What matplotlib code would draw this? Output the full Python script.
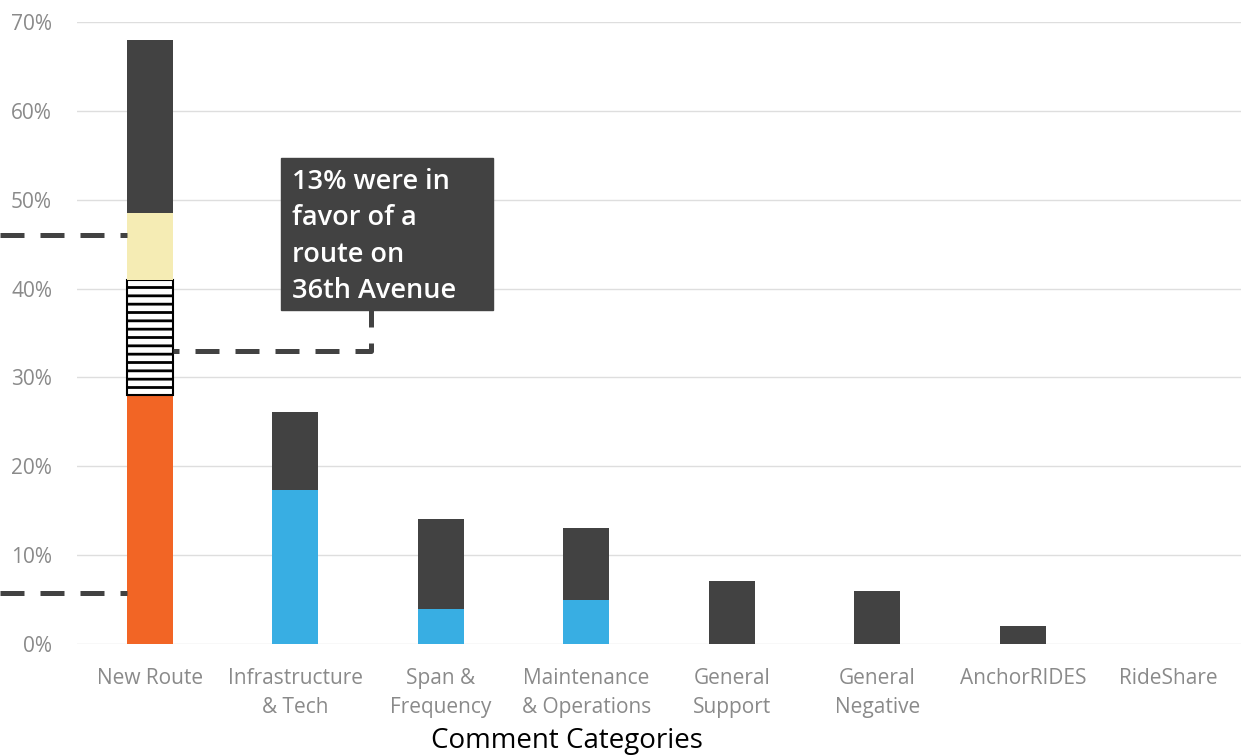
import numpy as np
import matplotlib.pyplot as plt
from matplotlib.patches import Rectangle

plt.rcParams['font.family'] = ['Open Sans', 'DejaVu Sans']
plt.rcParams['hatch.linewidth'] = 2.0

categories = ['New Route', 'Infrastructure\n& Tech', 'Span &\nFrequency',
              'Maintenance\n& Operations', 'General\nSupport', 'General\nNegative',
              'AnchorRIDES', 'RideShare']

# New Route pieces
new_orange = 28.0
new_hatched = 13.0
new_yellow = 7.5
new_dark = 19.5

# other categories: coloured part and dark remainder
blue_part = [0, 17.3, 3.9, 4.95, 0, 0, 0, 0]
dark_part = [0, 8.8, 10.2, 8.1, 7.1, 6.0, 2.0, 0]

callout = '13% were in\nfavor of a\nroute on\n36th Avenue'

orange = '#F26525'
blue = '#38AEE3'
dark = '#424242'
yellow = '#F5ECB4'

fig = plt.figure(figsize=(12.41, 7.56), dpi=100)
ax = fig.add_axes([77 / 1241, 1 - 644 / 756, 1164 / 1241, 622 / 756])

x = np.arange(len(categories))
w = 0.316

# New Route stack
ax.bar(0, new_orange, w, color=orange)
ax.bar(0, new_hatched, w, bottom=new_orange, color='white', edgecolor='black',
       hatch='--', linewidth=1.5)
ax.bar(0, new_yellow, w, bottom=new_orange + new_hatched, color=yellow)
ax.bar(0, new_dark, w, bottom=new_orange + new_hatched + new_yellow, color=dark)

# the rest
ax.bar(x[1:], blue_part[1:], w, color=blue)
ax.bar(x[1:], dark_part[1:], w, bottom=blue_part[1:], color=dark)

ax.set_xlim(-0.5, len(categories) - 0.5)
ax.set_ylim(0, 70)
ax.set_yticks(range(0, 71, 10))
ax.set_yticklabels([f'{v}%' for v in range(0, 71, 10)])
ax.set_xticks(x)
ax.set_xticklabels(categories, linespacing=1.55)
ax.tick_params(length=0, labelsize=15, colors='#8a8a8a')
ax.tick_params(axis='y', pad=18)
ax.tick_params(axis='x', pad=17)
ax.grid(axis='y', color='#dedede', linewidth=1)
ax.set_axisbelow(True)
for s in ax.spines.values():
    s.set_visible(False)
ax.set_xlabel('Comment Categories', fontsize=20, color='black', labelpad=6,
              x=0.421)

dash = dict(color=dark, linewidth=3.6, clip_on=False,
            solid_capstyle='butt', dash_capstyle='butt')
# dashed pointers on the left
ax.plot([-1.03, -w / 2], [46.0, 46.0], linestyle=(0, (4.8, 3.2)), **dash)
ax.plot([-1.03, -w / 2], [5.7, 5.7], linestyle=(0, (4.8, 3.2)), **dash)
# connector to callout, drawn from the box down to the hatched piece
ax.plot([1.52, 1.52, w / 2], [37.6, 33.0, 33.0], zorder=3,
        linestyle=(1.4, (4.8, 3.2)), **dash)

# callout box
ax.add_patch(Rectangle((0.899, 37.6), 1.457, 17.1, color=dark, zorder=4))
ax.text(0.98, 53.6, callout, color='white', fontsize=19.5, fontweight='semibold',
        va='top', ha='left', linespacing=1.4, zorder=5)

fig.savefig('out.png', dpi=100)
